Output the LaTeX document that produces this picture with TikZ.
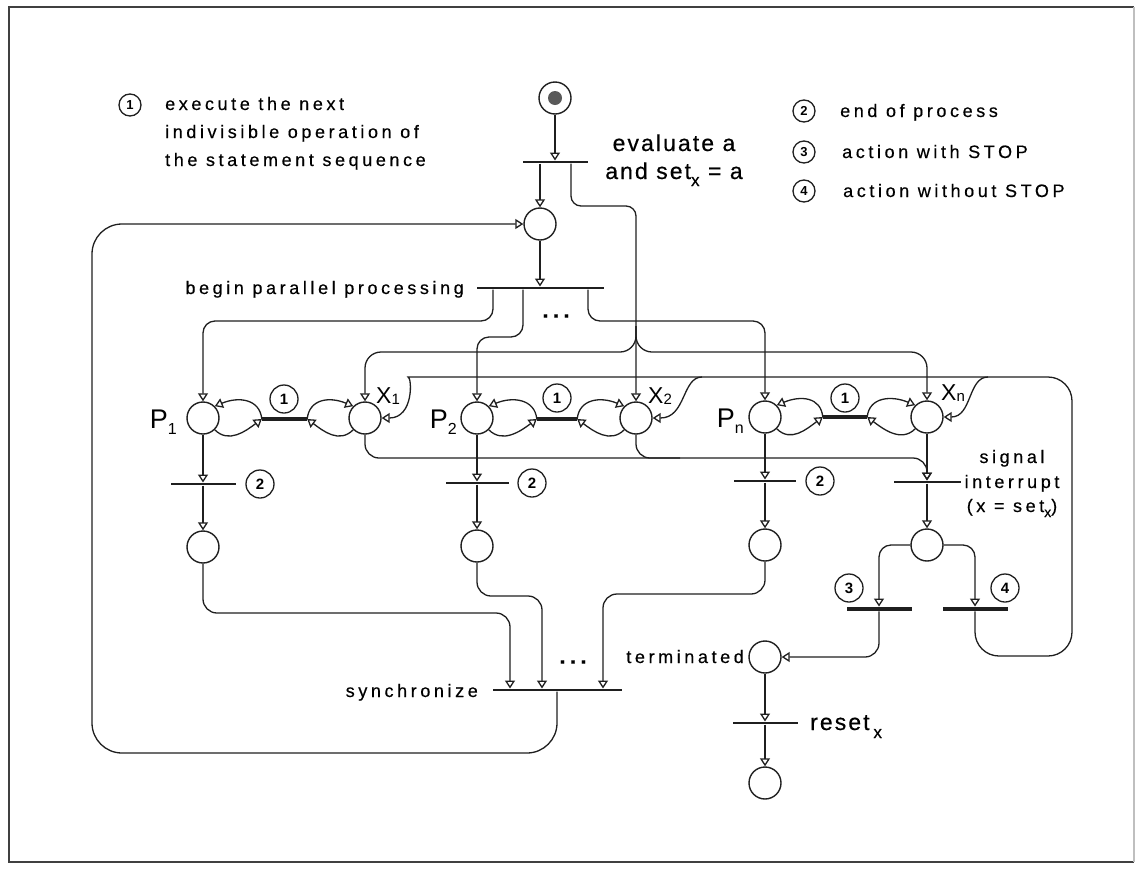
\documentclass[tikz,border=0pt]{standalone}
\usepackage{fontspec}
\setmainfont{Liberation Sans}
\newfontfamily\legfont{Liberation Sans}[LetterSpace=20, FakeBold=0.4]
\newfontfamily\bigfont{Liberation Sans}[LetterSpace=9, FakeBold=0.5]
\newfontfamily\plainfont{Liberation Sans}
\usetikzlibrary{arrows.meta}
\begin{document}
\begin{tikzpicture}[x=1pt,y=-1pt,
  ln/.style={line width=1.3pt, draw=black!88},
  arr/.style={ln, -{Triangle[open, length=8pt, width=10pt]}},
  plc/.style={circle, draw=black!88, line width=1.4pt, minimum size=32pt, inner sep=0pt},
  tb/.style={rectangle, fill=black!88, minimum height=2.6pt, inner sep=0pt},
  tbk/.style={rectangle, fill=black!88, minimum height=4.5pt, inner sep=0pt},
  numc/.style={circle, draw=black!88, line width=1.3pt, minimum size=28pt, inner sep=0pt, font=\plainfont\bfseries\fontsize{15}{15}\selectfont},
  lnumc/.style={circle, draw=black!88, line width=1.3pt, minimum size=22pt, inner sep=0pt, font=\plainfont\bfseries\fontsize{13}{13}\selectfont},
  lbl/.style={inner sep=0pt, font=\legfont\fontsize{18}{18}\selectfont},
  blbl/.style={inner sep=0pt, font=\bigfont\fontsize{23}{23}\selectfont},
  plbl/.style={inner sep=0pt, font=\plainfont\fontsize{27}{27}\selectfont},
  xlbl/.style={inner sep=0pt, font=\plainfont\fontsize{23}{23}\selectfont},
  dots/.style={inner sep=0pt, font=\legfont\bfseries\fontsize{22}{22}\selectfont},
]
\useasboundingbox (0,0) rectangle (1141,868);
% frame
\draw[line width=1.8pt, black!75] (1134,7) -- (9,7) -- (9,862) -- (1134,862);
\draw[line width=1.5pt, black!25] (1134,7) -- (1134,862);

% places
\node[plc] (start) at (555,98) {};
\fill[black!65] (start.center) circle (7pt);
\node[plc] (P0) at (540,224) {};
\node[plc] (P1) at (203,418) {};
\node[plc] (X1) at (365,418) {};
\node[plc] (P2) at (477,418) {};
\node[plc] (X2) at (636,418) {};
\node[plc] (Pn) at (765,417) {};
\node[plc] (Xn) at (927,417) {};
\node[plc] (E1) at (203,547) {};
\node[plc] (E2) at (477,546) {};
\node[plc] (En) at (765,545) {};
\node[plc] (I) at (927,545) {};
\node[plc] (T) at (765,657) {};
\node[plc] (F) at (765,783) {};

% transitions
\node[tb, minimum width=65pt] (tev) at (555,162) {};
\node[tb, minimum width=127pt] (tbp) at (540,288) {};
\node[tbk, minimum width=45pt] (t11) at (284.5,419) {};
\node[tbk, minimum width=40pt] (t12) at (557,419) {};
\node[tbk, minimum width=44pt] (t1n) at (845,417) {};
\node[tb, minimum width=65pt] (t21) at (203,484) {};
\node[tb, minimum width=63pt] (t22) at (477,483) {};
\node[tb, minimum width=62pt] (t2n) at (765,481) {};
\node[tb, minimum width=67pt] (tint) at (927,482) {};
\node[tbk, minimum width=65pt] (t3) at (879,609) {};
\node[tbk, minimum width=65pt] (t4) at (975,609) {};
\node[tb, minimum width=129pt] (tsy) at (557,690) {};
\node[tb, minimum width=65pt] (trs) at (765,723) {};

% connectors top
\draw[arr] (start) -- (tev.north);
\draw[arr] ([xshift=-15pt]tev.south) -- (P0);
\draw[arr, rounded corners=10] ([xshift=16pt]tev.south) |- (636,206) -- (X2.north);
\draw[arr, rounded corners=16] (636,326) |- (365,352) -- (X1.north);
\draw[arr, rounded corners=16] (636,326) |- (927,352) -- (Xn.north);
\draw[arr] (P0) -- (P0 |- tbp.north);
\draw[arr, rounded corners=12] ([xshift=-47pt]tbp.south) |- (203,321) -- (P1.north);
\draw[arr, rounded corners=12] ([xshift=-17pt]tbp.south) |- (477,337) -- (P2.north);
\draw[arr, rounded corners=12] ([xshift=48pt]tbp.south) |- (765,321) -- (Pn.north);

% big loop back
\draw[arr, rounded corners=30] (tsy.south) |- (92,753) |- (P0.west);

% step loops (1)
\draw[arr] (t11.west) .. controls +(-2,-20) and +(24,-10) .. (P1.45);
\draw[arr] (P1.-45) .. controls +(14,14) and +(-16,12) .. (t11.west);
\draw[arr] (t11.east) .. controls +(2,-20) and +(-24,-10) .. (X1.135);
\draw[arr] (X1.-135) .. controls +(-14,14) and +(16,12) .. (t11.east);
\draw[arr] (t12.west) .. controls +(-2,-20) and +(24,-10) .. (P2.45);
\draw[arr] (P2.-45) .. controls +(14,14) and +(-16,12) .. (t12.west);
\draw[arr] (t12.east) .. controls +(2,-20) and +(-24,-10) .. (X2.135);
\draw[arr] (X2.-135) .. controls +(-14,14) and +(16,12) .. (t12.east);
\draw[arr] (t1n.west) .. controls +(-2,-20) and +(24,-10) .. (Pn.45);
\draw[arr] (Pn.-45) .. controls +(14,14) and +(-16,12) .. (t1n.west);
\draw[arr] (t1n.east) .. controls +(2,-20) and +(-24,-10) .. (Xn.135);
\draw[arr] (Xn.-135) .. controls +(-14,14) and +(16,12) .. (t1n.east);

% end of process
\draw[arr] (P1) -- (t21.north);
\draw[arr] (t21.south) -- (E1);
\draw[arr] (P2) -- (t22.north);
\draw[arr] (t22.south) -- (E2);
\draw[arr] (Pn) -- (t2n.north);
\draw[arr] (t2n.south) -- (En);

% interrupt
\draw[arr, rounded corners=14] (X1.south) |- (927,458) -- (tint.north);
\draw[ln, rounded corners=14] (X2.south) |- (680,458);
\draw[arr] (Xn) -- (tint.north);
\draw[arr] (tint.south) -- (I);
\draw[arr, rounded corners=12] (I.west) -| (t3.north);
\draw[arr, rounded corners=12] (I.east) -| (t4.north);
\draw[arr, rounded corners=14] (t3.south) |- (T.east);
\draw[arr, rounded corners=24] (t4.south) |- (1072,656) -- (1072,377) -- (432,377) .. controls (412,377) and (414,418) .. (X1.east);
\draw[arr] (702,377) .. controls (682,377) and (686,418) .. (X2.east);
\draw[arr] (988,377) .. controls (968,377) and (972,417) .. (Xn.east);

% synchronize
\draw[arr, rounded corners=14] (E1.south) |- (510,613) -- ([xshift=-47pt]tsy.north);
\draw[arr, rounded corners=14] (E2.south) |- (542,596) -- ([xshift=-15pt]tsy.north);
\draw[arr, rounded corners=14] (En.south) |- (603,594) -- ([xshift=46pt]tsy.north);
\draw[arr] (T) -- (trs.north);
\draw[arr] (trs.south) -- (F);

% numbered circles
\node[numc] (n1a) at (284,399) {1};
\node[numc] (n1b) at (557,398) {1};
\node[numc] (n1c) at (845,398) {1};
\node[numc] (n2a) at (260,484) {2};
\node[numc] (n2b) at (532,483) {2};
\node[numc] (n2c) at (820,481) {2};
\node[numc] (n3) at (849,588) {3};
\node[numc] (n4) at (1005,588) {4};

% legend
\node[lnumc] (c1) at (130,105) {1};
\node[lbl, anchor=base west] (l1a) at (165,110) {execute the next};
\node[lbl, anchor=base west] (l1b) at (165,138) {indivisible operation of};
\node[lbl, anchor=base west] (l1c) at (165,166) {the statement sequence};
\node[lnumc] (c2) at (804,111) {2};
\node[lbl, anchor=base west] (l2) at (840,117) {end of process};
\node[lnumc] (c3) at (804,152) {3};
\node[lbl, anchor=base west] (l3) at (842,158) {action with STOP};
\node[lnumc] (c4) at (804,191) {4};
\node[lbl, anchor=base west] (l4) at (843,197) {action without STOP};

% labels
\node[blbl, anchor=base] (ev1) at (674,151) {evaluate a};
\node[blbl, anchor=base] (ev2) at (674,179) {and set\raisebox{-7pt}{\fontsize{17}{17}\selectfont x} = a};
\node[lbl, anchor=base east] (lbp) at (464,294) {begin parallel processing};
\node[lbl, anchor=base east] (lsy) at (478,697) {synchronize};
\node[lbl, anchor=base east] (lte) at (744,663) {terminated};
\node[blbl, anchor=base west] (lrs) at (810,730) {reset\,\raisebox{-8pt}{\fontsize{17}{17}\selectfont x}};
\node[lbl, anchor=base] (li1) at (1012,463) {signal};
\node[lbl, anchor=base] (li2) at (1012,488) {interrupt};
\node[lbl, anchor=base] (li3) at (1012,512) {(x = set\raisebox{-5pt}{\fontsize{14}{14}\selectfont x})};
\node[dots] (d1) at (556,316) {...};
\node[dots] (d2) at (573,662) {...};

% P and X labels
\node[plbl, anchor=base east] (lP1) at (177,428) {P\raisebox{-6pt}{\fontsize{16}{16}\selectfont 1}};
\node[plbl, anchor=base east] (lP2) at (457,428) {P\raisebox{-6pt}{\fontsize{16}{16}\selectfont 2}};
\node[plbl, anchor=base east] (lPn) at (744,427) {P\raisebox{-6pt}{\fontsize{16}{16}\selectfont n}};
\node[xlbl, anchor=base west] (lX1) at (376,403) {X\raisebox{-1pt}{\fontsize{15}{15}\selectfont 1}};
\node[xlbl, anchor=base west] (lX2) at (648,403) {X\raisebox{-1pt}{\fontsize{15}{15}\selectfont 2}};
\node[xlbl, anchor=base west] (lXn) at (941,400) {X\raisebox{-1pt}{\fontsize{15}{15}\selectfont n}};
\end{tikzpicture}
\end{document}
